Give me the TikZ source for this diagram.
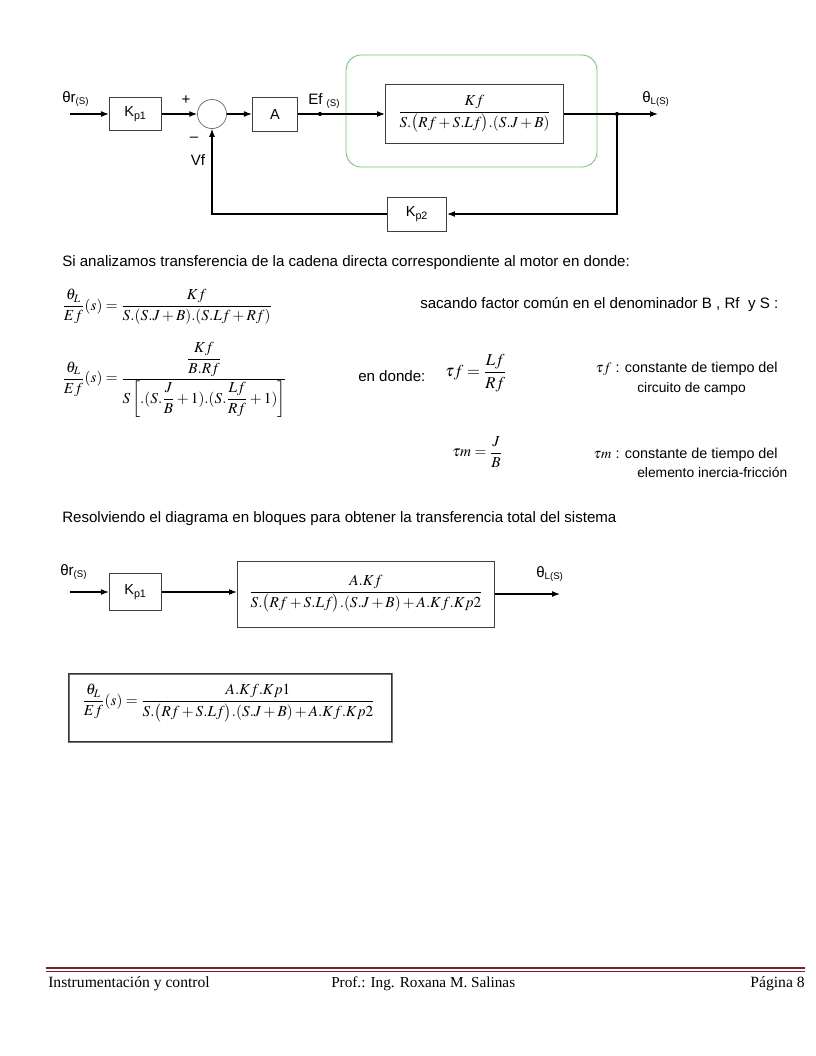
\documentclass[tikz,border=0pt]{standalone}
\usepackage{amsmath}
\usepackage{mathptmx}
\usepackage[no-math]{fontspec}
\setmainfont{Liberation Sans}
\newfontfamily\footfont{Liberation Serif}
\usetikzlibrary{arrows.meta,positioning}

\definecolor{boxgreen}{RGB}{110,200,110}
\definecolor{footred}{RGB}{120,35,40}

\tikzset{
  block/.style={draw=black!75, line width=0.5pt, inner sep=0pt, font=\fontsize{10.5}{12}\selectfont},
  sumnode/.style={draw=black!60, circle, line width=0.5pt, minimum size=21pt, inner sep=0pt},
  wire/.style={line width=0.8pt, -{Latex[length=2mm,width=1.5mm]}},
  line/.style={line width=0.8pt},
  txt/.style={inner sep=0pt, font=\fontsize{10.9}{13}\selectfont},
  eq/.style={inner sep=0pt, font=\fontsize{11}{13}\selectfont},
  dot/.style={circle, fill=black, inner sep=0pt, minimum size=3pt}
}

\begin{document}
\begin{tikzpicture}[x=0.254mm,y=-0.254mm]
\useasboundingbox[fill=white] (0,0) rectangle (816,1056);

% -----------------------------
% Closed loop (top)
% -----------------------------
\draw[boxgreen, line width=0.6pt, rounded corners=11pt] (346,55) rectangle (597,167);

\coordinate (inA) at (70,114);
\node[block, minimum width=38pt, minimum height=24pt] (kpa) at (135.5,114) {K\textsubscript{p1}};
\node[sumnode] (sum) at (212,114) {};
\node[block, minimum width=33pt, minimum height=24.5pt] (amp) at (275,114) {A};
\node[dot] (efdot) at (320,114) {};
\node[block, minimum width=129pt, minimum height=42.5pt, font=\fontsize{11}{13}\selectfont] (motor) at (474.5,114)
  {$\dfrac{Kf}{S.\bigl(Rf+S.Lf\bigr).(S.J+B)}$};
\node[dot] (outdot) at (617,114) {};
\coordinate (outA) at (658,114);
\node[block, minimum width=43pt, minimum height=24.5pt] (kpb) at (417,214) {K\textsubscript{p2}};

\draw[wire] (inA) -- (kpa);
\draw[wire] (kpa) -- (sum);
\draw[wire] (sum) -- (amp);
\draw[line] (amp) -- (efdot);
\draw[wire] (efdot) -- (motor);
\draw[line] (motor) -- (outdot);
\draw[wire] (outdot) -- (outA);
\draw[wire] (outdot) |- (kpb);       % feedback path
\draw[wire] (kpb) -| (sum);

% labels
\node[txt, anchor=west] (thr) at (62,99) {θr\raisebox{-0.35ex}{\scriptsize(S)}};
\node[txt] (plus) at (186,100) {+};
\node[txt] (minus) at (194,139) {–};
\node[txt] (vf) at (198,160) {Vf};
\node[txt, anchor=west] (ef) at (308,101) {Ef \raisebox{-0.3ex}{\scriptsize(S)}};
\node[txt, anchor=west] (thl) at (642,99) {θ\raisebox{-0.35ex}{\scriptsize L(S)}};

% -----------------------------
% Direct chain
% -----------------------------
\node[txt, anchor=west] (t1) at (62,263) {Si analizamos transferencia de la cadena directa correspondiente al motor en donde:};
\node[eq, anchor=west] (eq1) at (62,307)
  {$\dfrac{\theta_L}{Ef}(s)=\dfrac{Kf}{S.(S.J+B).(S.Lf+Rf)}$};
\node[eq, anchor=west] (eq2) at (62,380)
  {$\dfrac{\theta_L}{Ef}(s)=\dfrac{\dfrac{Kf}{B.Rf}}{S\left[.(S.\dfrac{J}{B}+1).(S.\dfrac{Lf}{Rf}+1)\right]}$};
\node[txt, anchor=west] (t2) at (420,305) {sacando factor común en el denominador B , Rf \ y S :};
\node[txt, anchor=west] (t3) at (358,376) {en donde:};
\node[eq, anchor=west, font=\fontsize{12}{14}\selectfont] (tauf) at (445,373) {$\tau f=\dfrac{Lf}{Rf}$};
\node[eq, anchor=west] (taum) at (452,452) {$\tau m=\dfrac{J}{B}$};
\node[txt, anchor=east, font=\fontsize{10.4}{12}\selectfont] (d1) at (778,369) {$\tau f$ : constante de tiempo del};
\node[txt, anchor=west, font=\fontsize{10}{12}\selectfont] (d2) at (637,389) {circuito de campo};
\node[txt, anchor=east, font=\fontsize{10.4}{12}\selectfont] (d3) at (778,455) {$\tau m$ : constante de tiempo del};
\node[txt, anchor=west, font=\fontsize{10}{12}\selectfont] (d4) at (637,472) {elemento inercia-fricción};

% -----------------------------
% Reduced diagram
% -----------------------------
\node[txt, anchor=west] (t4) at (62,519) {Resolviendo el diagrama en bloques para obtener la transferencia total del sistema};

\coordinate (inB) at (70,592);
\node[block, minimum width=186pt, minimum height=47.5pt, font=\fontsize{11}{13}\selectfont] (total) at (366,594)
  {$\dfrac{A.Kf}{S.\bigl(Rf+S.Lf\bigr).(S.J+B)+A.Kf.Kp2}$};
\node[block, minimum width=38pt, minimum height=26.5pt] (kpc) at (135.5,592) {K\textsubscript{p1}};
\coordinate (outB) at (560,594);
\draw[wire] (inB) -- (kpc);
\draw[wire] (kpc) -- (kpc -| total.west);
\draw[wire] (total) -- (outB);
\node[txt, anchor=west] (thr2) at (60,572) {θr\raisebox{-0.35ex}{\scriptsize(S)}};
\node[txt, anchor=west] (thl2) at (536,574) {θ\raisebox{-0.35ex}{\scriptsize L(S)}};

% result
\draw[black!55, line width=0.8pt] (69,674) rectangle (392,742);
\draw[black!80, line width=0.5pt] (68,673) rectangle (391,741);
\node[eq, anchor=west] (eq3) at (82,703)
  {$\dfrac{\theta_L}{Ef}(s)=\dfrac{A.Kf.Kp1}{S.\bigl(Rf+S.Lf\bigr).(S.J+B)+A.Kf.Kp2}$};

% -----------------------------
% Footer
% -----------------------------
\draw[footred, line width=2pt] (46,968) -- (805,968);
\draw[footred, line width=0.5pt] (46,971.5) -- (805,971.5);
\node[txt, anchor=west, font=\footfont\fontsize{11.3}{13}\selectfont] (f1) at (48,984) {Instrumentación y control};
\node[txt, anchor=west, font=\footfont\fontsize{11}{13}\selectfont] (f2) at (331,984) {Prof.: Ing. Roxana M. Salinas};
\node[txt, anchor=east, font=\footfont\fontsize{11.3}{13}\selectfont] (f3) at (805,984) {Página 8};

\end{tikzpicture}
\end{document}
